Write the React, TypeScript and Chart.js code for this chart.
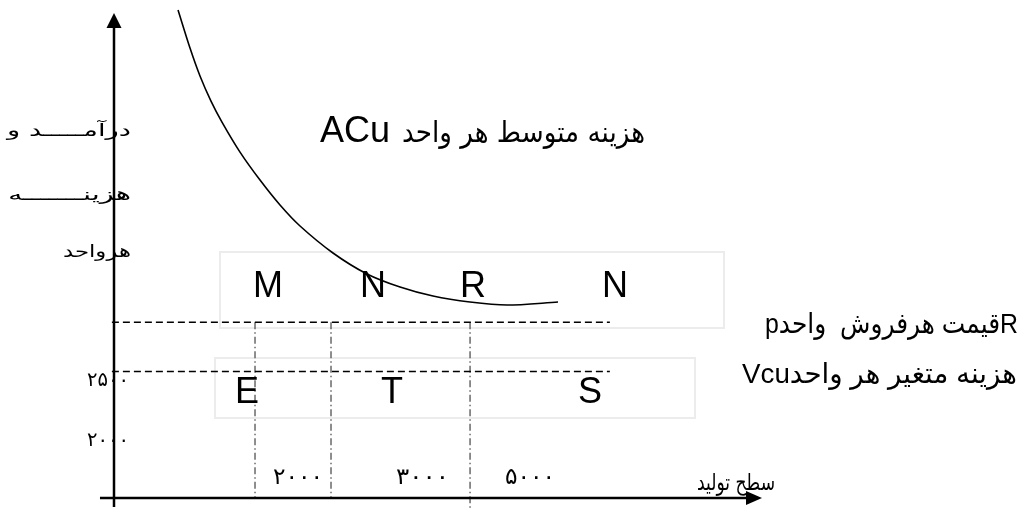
import React, { useEffect, useRef } from 'react';
import { Chart, registerables } from 'chart.js';

Chart.register(...registerables);

// ---- scale domain (production level / revenue & cost per unit) ----
const X_MIN = 0;
const X_MAX = 9200;
const Y_MIN = 1525;
const Y_MAX = 5567;

// ---- average cost per unit curve (ACu) ----
const acuX = [909, 1079, 1221, 1377, 1533, 1789, 2073, 2357, 2641, 3109, 3592, 4061, 4529, 5054, 5580, 6304];
const acuY = [5592, 5275, 5042, 4833, 4658, 4408, 4175, 3967, 3792, 3567, 3392, 3283, 3208, 3158, 3133, 3158];

// ---- horizontal guides: unit price (p = R) and variable cost per unit (Vcu) ----
const priceLevel = 2990;
const vcuLevel = 2580;
const guideStartX = -30;
const guideEndX = 7040;

// ---- vertical guides: production levels ----
const productionLevels = [2002, 3081, 5055];
const productionBottoms = [Y_MIN, Y_MIN, 1442];

// ---- tick labels ----
const xTickLabels = ['۲۰۰۰', '۳۰۰۰', '۵۰۰۰'];
const xTickValues = [2613, 4379, 5906];
const yTickLabels = ['۲۵۰۰', '۲۰۰۰'];
const yTickValues = [2500, 2000];

// ---- point letters ----
const topLetters = ['M', 'N', 'R', 'N'];
const topLetterX = [2186, 3677, 5097, 7113];
const topLetterY = 3200;
const bottomLetters = ['E', 'T', 'S'];
const bottomLetterX = [1888, 3947, 6758];
const bottomLetterY = 2317;

// ---- text ----
const yAxisTitle = ['درآمـــــد و', 'هزینـــــــه', 'هرواحد'];
const yAxisTitleY = [4542, 4008, 3533];
const xAxisTitle = 'سطح تولید';
const curveLabelLatin = 'ACu';
const curveLabelPersian = 'هزینه متوسط هر واحد';
const priceLabel = 'pقیمت هرفروش  واحدR';
const vcuLabel = 'Vcuهزینه متغیر هر واحد';

// ---- text boxes (x1, x2, yTop, yBottom) ----
const boxes = [
  [1505, 8661, 3575, 2942],
  [1434, 8249, 2692, 2192],
];

const LATIN = "'Liberation Sans', Arial, 'DejaVu Sans', sans-serif";
const ARABIC = "'DejaVu Sans', 'Liberation Sans', sans-serif";

// draw text so that it spans exactly `width` pixels horizontally
function fitText(
  ctx: CanvasRenderingContext2D,
  text: string,
  x: number,
  y: number,
  width: number,
  align: 'left' | 'right' | 'center',
  dir: 'ltr' | 'rtl'
) {
  ctx.save();
  ctx.direction = dir;
  ctx.textAlign = align;
  const w = ctx.measureText(text).width || 1;
  ctx.translate(x, y);
  ctx.scale(width / w, 1);
  ctx.fillText(text, 0, 0);
  ctx.restore();
}

const diagramPlugin = {
  id: 'diagram',
  beforeDatasetsDraw(chart: any) {
    const { ctx, scales } = chart;
    const xs = scales.x;
    const ys = scales.y;
    ctx.save();
    ctx.strokeStyle = '#ececec';
    ctx.lineWidth = 2;
    for (const b of boxes) {
      const l = xs.getPixelForValue(b[0]);
      const r = xs.getPixelForValue(b[1]);
      const t = ys.getPixelForValue(b[2]);
      const btm = ys.getPixelForValue(b[3]);
      ctx.strokeRect(l, t, r - l, btm - t);
    }
    ctx.restore();
  },
  afterDatasetsDraw(chart: any) {
    const { ctx, scales } = chart;
    const xs = scales.x;
    const ys = scales.y;
    const X = (v: number) => xs.getPixelForValue(v);
    const Y = (v: number) => ys.getPixelForValue(v);
    ctx.save();

    // axes
    const ox = X(0);
    const oy = Y(Y_MIN);
    const topY = Y(Y_MAX);
    const rightX = X(X_MAX);
    ctx.strokeStyle = '#000';
    ctx.fillStyle = '#000';
    ctx.lineWidth = 2.5;
    ctx.beginPath();
    ctx.moveTo(ox, Y(1450));
    ctx.lineTo(ox, topY + 14);
    ctx.moveTo(X(-199), oy);
    ctx.lineTo(rightX - 14, oy);
    ctx.stroke();
    // arrow heads
    ctx.beginPath();
    ctx.moveTo(ox, topY);
    ctx.lineTo(ox - 7.5, topY + 15);
    ctx.lineTo(ox + 7.5, topY + 15);
    ctx.closePath();
    ctx.fill();
    ctx.beginPath();
    ctx.moveTo(rightX, oy);
    ctx.lineTo(rightX - 16, oy - 7);
    ctx.lineTo(rightX - 16, oy + 7);
    ctx.closePath();
    ctx.fill();

    ctx.fillStyle = '#000';
    ctx.textBaseline = 'alphabetic';

    // letters
    ctx.font = `36px ${LATIN}`;
    ctx.textAlign = 'center';
    ctx.direction = 'ltr';
    topLetters.forEach((s, i) => ctx.fillText(s, X(topLetterX[i]), Y(topLetterY)));
    bottomLetters.forEach((s, i) => ctx.fillText(s, X(bottomLetterX[i]), Y(bottomLetterY)));

    // curve label
    ctx.textAlign = 'left';
    ctx.fillText(curveLabelLatin, X(2925), Y(4492));
    ctx.font = `29px ${ARABIC}`;
    fitText(ctx, curveLabelPersian, X(7539), Y(4492), 243, 'right', 'rtl');

    // y axis title
    ctx.font = `17px ${ARABIC}`;
    const titleWidths = [124, 123, 68];
    yAxisTitle.forEach((s, i) => fitText(ctx, s, X(241), Y(yAxisTitleY[i]), titleWidths[i], 'right', 'rtl'));

    // y tick labels
    ctx.textBaseline = 'middle';
    ctx.font = `20px ${ARABIC}`;
    yTickLabels.forEach((s, i) => fitText(ctx, s, X(-85), Y(yTickValues[i]), 42, 'center', 'ltr'));
    // x tick labels
    ctx.font = `23px ${ARABIC}`;
    const xTickWidths = [50, 53, 50];
    xTickLabels.forEach((s, i) => fitText(ctx, s, X(xTickValues[i]), Y(1692), xTickWidths[i], 'center', 'ltr'));

    // x axis title
    ctx.textBaseline = 'alphabetic';
    ctx.font = `23px ${ARABIC}`;
    fitText(ctx, xAxisTitle, X(9385), Y(1592), 78, 'right', 'rtl');

    // right labels
    ctx.font = `28px ${LATIN}`;
    fitText(ctx, priceLabel, X(9243), Y(2900), 253, 'left', 'ltr');
    fitText(ctx, vcuLabel, X(8916), Y(2483), 275, 'left', 'ltr');

    ctx.restore();
  },
};

export default function App() {
  const ref = useRef<HTMLCanvasElement | null>(null);

  useEffect(() => {
    if (!ref.current) return;
    const line = (pts: { x: number; y: number }[], extra: any) => ({
      data: pts,
      showLine: true,
      pointRadius: 0,
      borderColor: '#000',
      borderWidth: 1.5,
      clip: false,
      ...extra,
    });
    const datasets: any[] = [
      line(acuX.map((x, i) => ({ x, y: acuY[i] })), { tension: 0.3, borderWidth: 1.6 }),
      line([{ x: guideStartX, y: priceLevel }, { x: guideEndX, y: priceLevel }], { borderDash: [7, 4] }),
      line([{ x: guideStartX, y: vcuLevel }, { x: guideEndX, y: vcuLevel }], { borderDash: [7, 4] }),
      ...productionLevels.map((x, i) =>
        line([{ x, y: priceLevel }, { x, y: productionBottoms[i] }], {
          borderDash: [7, 3, 1.5, 3],
          borderColor: '#444',
          borderWidth: 1.2,
        })
      ),
    ];
    const chart = new Chart(ref.current, {
      type: 'scatter',
      data: { datasets },
      options: {
        animation: false,
        responsive: false,
        maintainAspectRatio: false,
        layout: { padding: { left: 114, right: 257, top: 13, bottom: 10 } },
        scales: {
          x: { type: 'linear', min: X_MIN, max: X_MAX, display: false },
          y: { type: 'linear', min: Y_MIN, max: Y_MAX, display: false },
        },
        plugins: { legend: { display: false }, tooltip: { enabled: false } },
      },
      plugins: [diagramPlugin],
    });
    return () => chart.destroy();
  }, []);

  return (
    <div style={{ position: 'absolute', left: 0, top: 0, width: 1019, height: 508, background: '#fff' }}>
      <canvas ref={ref} width={1019} height={508} style={{ width: 1019, height: 508 }} />
    </div>
  );
}
